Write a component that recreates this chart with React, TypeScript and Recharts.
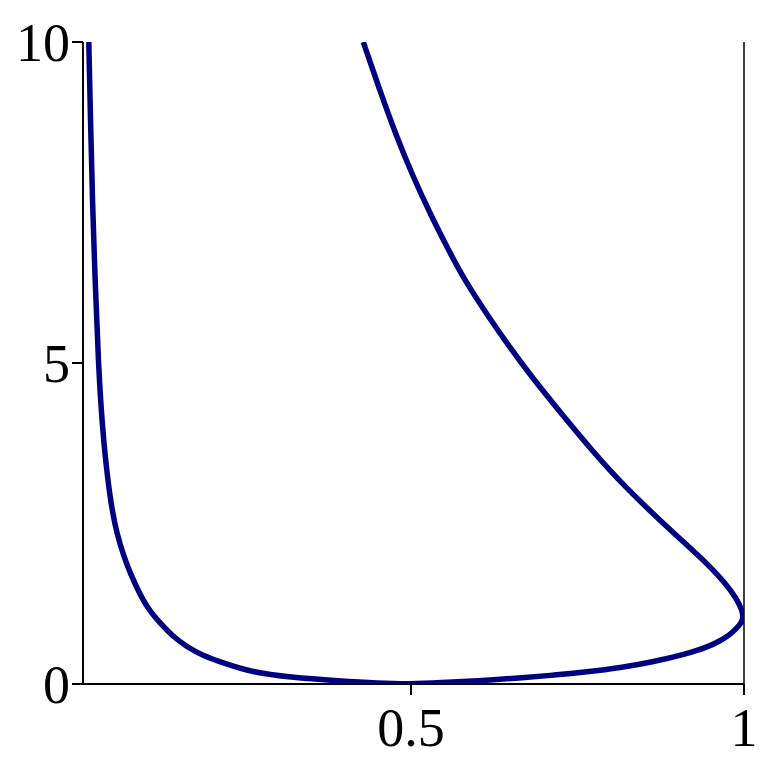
import { LineChart, Line, XAxis, YAxis, ReferenceLine } from 'recharts';

// points along the curve, in drawing order: left branch -> bottom -> nose -> right branch
const curveX = [
  0.0162, 0.0188, 0.0216, 0.026, 0.0309, 0.0344, 0.0384, 0.0438, 0.0502, 0.0583, 0.0691, 0.0795,
  0.0901, 0.1045, 0.1231, 0.1415, 0.1632, 0.188, 0.2177, 0.2583, 0.3183, 0.3934, 0.45, 0.5,
  0.544, 0.6, 0.664, 0.714, 0.764, 0.814, 0.864, 0.914, 0.944, 0.964, 0.979, 0.989,
  0.996, 0.999, 0.997, 0.989, 0.972, 0.949, 0.918, 0.884, 0.821, 0.7715, 0.7252,
  0.6844, 0.6479, 0.6164, 0.5803, 0.5538, 0.5285, 0.502, 0.4785, 0.453, 0.4284,
];
const curveY = [
  10, 8.77, 7.54, 6.2, 4.94, 4.35, 3.8, 3.26, 2.76, 2.34, 1.98, 1.7,
  1.46, 1.18, 0.95, 0.75, 0.58, 0.44, 0.33, 0.19, 0.104, 0.047, 0.013, 0,
  0.02, 0.05, 0.095, 0.137, 0.188, 0.252, 0.345, 0.47, 0.57, 0.67, 0.77, 0.87,
  0.95, 1.04, 1.15, 1.33, 1.57, 1.83, 2.13, 2.45, 3.07, 3.64, 4.22,
  4.74, 5.25, 5.72, 6.29, 6.81, 7.33, 7.93, 8.52, 9.25, 10,
];

const xTicks = [0.5, 1];
const yTicks = [0, 5, 10];

const data = curveX.map((x, i) => ({ x, y: curveY[i] }));

const tickStyle = { fill: '#000', fontSize: 54, fontFamily: '"Liberation Serif", serif' };

export default function App() {
  return (
    <div style={{ position: 'absolute', left: 0, top: 0, width: 771, height: 771, background: '#fff' }}>
      <LineChart width={771} height={771} data={data} margin={{ top: 42, right: 27, left: 0, bottom: 0 }}>
        <XAxis
          dataKey="x"
          type="number"
          domain={[0.0075, 1]}
          ticks={xTicks}
          allowDataOverflow
          height={87}
          stroke="#000"
          strokeWidth={2}
          tickSize={11}
          tickMargin={13}
          tick={tickStyle}
        />
        <YAxis
          type="number"
          domain={[0, 10]}
          ticks={yTicks}
          allowDataOverflow
          width={83}
          stroke="#000"
          strokeWidth={2}
          tickSize={11}
          tickMargin={2}
          tick={tickStyle}
        />
        <ReferenceLine x={1} stroke="#000" strokeWidth={1.5} />
        <Line
          dataKey="y"
          type="basis"
          stroke="#000080"
          strokeWidth={5.5}
          dot={false}
          isAnimationActive={false}
        />
      </LineChart>
    </div>
  );
}
